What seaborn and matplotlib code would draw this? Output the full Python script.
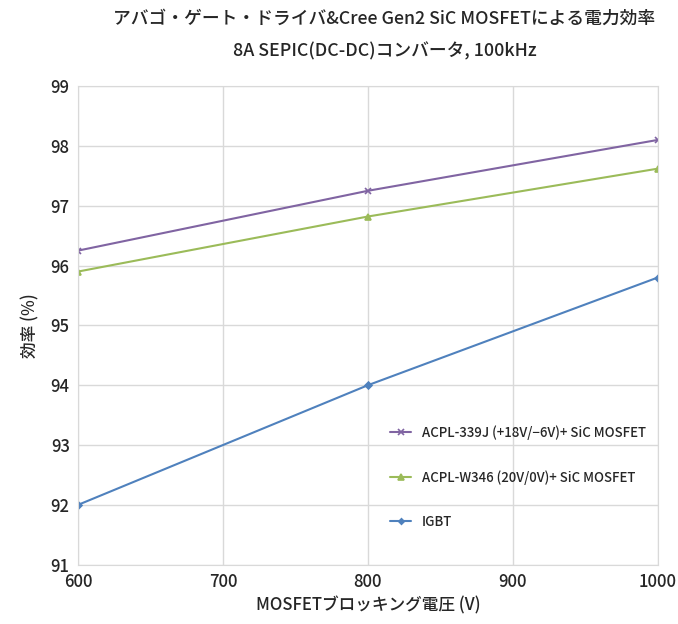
import pandas as pd
import seaborn as sns
import matplotlib.pyplot as plt

# 読み取った値
voltage = [600, 800, 1000]
acpl_339j = [96.25, 97.25, 98.1]
acpl_w346 = [95.9, 96.82, 97.62]
igbt = [92.0, 94.0, 95.8]

series_names = ['ACPL-339J (+18V/−6V)+ SiC MOSFET',
                'ACPL-W346 (20V/0V)+ SiC MOSFET',
                'IGBT']
series_values = [acpl_339j, acpl_w346, igbt]
colors = ['#8064A2', '#9BBB59', '#4F81BD']
markers = ['x', '^', 'D']
msizes = [5, 5, 3.5]

sns.set_style('white')
plt.rcParams['font.family'] = ['Noto Sans CJK JP', 'DejaVu Sans']

fig = plt.figure(figsize=(6.78, 6.24), dpi=100)
ax = fig.add_axes([0.115, 0.095, 0.855, 0.767])

# 系列ごとに描く（x と塗りつぶしマーカーは一緒に使えないため）
for name, vals, c, m, ms in zip(series_names, series_values, colors, markers, msizes):
    df = pd.DataFrame({'電圧': voltage, '効率': vals})
    sns.lineplot(data=df, x='電圧', y='効率', color=c, marker=m, label=name,
                 linewidth=1.5, markersize=ms, markeredgewidth=1.2,
                 markeredgecolor=c, ax=ax)

ax.set_xlim(600, 1000)
ax.set_ylim(91, 99)
ax.set_xticks([600, 700, 800, 900, 1000])
ax.set_yticks(range(91, 100))
ax.grid(True, color='#d9d9d9', linewidth=1)
for s in ax.spines.values():
    s.set_color('#d9d9d9')
ax.tick_params(labelsize=12, length=0, pad=6)
for t in ax.get_xticklabels() + ax.get_yticklabels():
    t.set_fontweight('medium')

ax.set_xlabel('MOSFETブロッキング電圧 (V)', fontsize=12, labelpad=4, fontweight='medium')
ax.set_ylabel('効率 (%)', fontsize=12, labelpad=8, fontweight='medium')

fig.text(0.567, 0.97, 'アバゴ・ゲート・ドライバ&Cree Gen2 SiC MOSFETによる電力効率',
         ha='center', va='center', fontsize=12.8, fontweight='medium')
fig.text(0.567, 0.918, '8A SEPIC(DC-DC)コンバータ, 100kHz',
         ha='center', va='center', fontsize=12.8, fontweight='medium')

leg = ax.legend(title=None, loc='lower right', bbox_to_anchor=(1.0, 0.05),
                frameon=False, fontsize=9.5, labelspacing=2.3,
                handlelength=1.6, markerscale=0.8)
for t in leg.get_texts():
    t.set_fontweight('medium')

fig.savefig('out.png', dpi=100)
